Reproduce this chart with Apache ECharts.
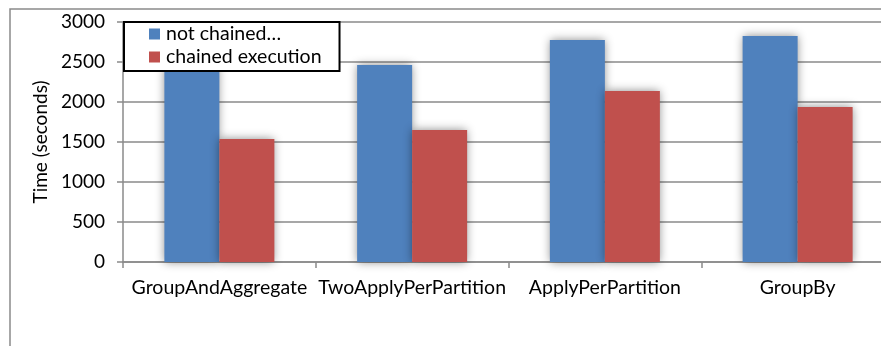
<!DOCTYPE html>
<html>
<head>
<meta charset="utf-8">
<script src="https://cdn.jsdelivr.net/npm/echarts@6/dist/echarts.min.js"></script>
<style>
  html, body { margin: 0; padding: 0; background: #fff; }
  #chart { width: 881px; height: 346px; }
</style>
</head>
<body>
<div id="chart"></div>
<script>
// Benchmark runtimes per operator, in seconds
const categories = ['GroupAndAggregate', 'TwoApplyPerPartition', 'ApplyPerPartition', 'GroupBy'];
const notChained = [2450, 2462, 2775, 2825];
const chainedExecution = [1537, 1650, 2137, 1937];
const seriesNames = ['not chained\u2026', 'chained execution'];
const yTicks = { min: 0, max: 3000, interval: 500 };

const FONT = 'Lato';
const GRAY = '#8a8a8a';

const chart = echarts.init(document.getElementById('chart'), null, { renderer: 'canvas' });

const barShadow = {
  shadowBlur: 9,
  shadowColor: 'rgba(0,0,0,0.45)',
  shadowOffsetX: 0,
  shadowOffsetY: 0
};

chart.setOption({
  animation: false,
  backgroundColor: '#fff',
  textStyle: { fontFamily: FONT, color: '#000' },
  graphic: [
    {
      type: 'polyline',
      shape: { points: [[10, 346], [10, 9], [881, 9]] },
      style: { stroke: GRAY, lineWidth: 1.5, fill: null },
      z: 0
    }
  ],
  // plot area runs past the right edge of the canvas
  grid: { left: 123, top: 22, width: 771, height: 240, containLabel: false, outerBoundsMode: 'none' },
  legend: {
    left: 124,
    top: 22,
    orient: 'vertical',
    data: seriesNames,
    icon: 'rect',
    itemWidth: 11,
    itemHeight: 11,
    itemGap: 3,
    padding: [2, 18, 4, 25],
    backgroundColor: '#fff',
    borderColor: '#000',
    borderWidth: 2,
    borderRadius: 0,
    textStyle: { fontFamily: FONT, fontSize: 19.5, color: '#000', lineHeight: 20, padding: [0, 0, 0, 1] },
    z: 10
  },
  xAxis: {
    type: 'category',
    data: categories,
    axisLine: { lineStyle: { color: GRAY, width: 1.5 } },
    axisTick: { show: true, length: 6, lineStyle: { color: GRAY, width: 1.5 } },
    axisLabel: { fontFamily: FONT, fontSize: 19.5, color: '#000', margin: 16, interval: 0 },
    splitLine: { show: false }
  },
  yAxis: {
    type: 'value',
    min: yTicks.min,
    max: yTicks.max,
    interval: yTicks.interval,
    name: 'Time (seconds)',
    nameLocation: 'middle',
    nameGap: 70,
    nameTextStyle: { fontFamily: FONT, fontSize: 19, color: '#000' },
    axisLine: { show: true, lineStyle: { color: GRAY, width: 1.5 } },
    axisTick: { show: true, length: 6, lineStyle: { color: GRAY, width: 1.5 } },
    axisLabel: { fontFamily: FONT, fontSize: 19, color: '#000', margin: 18, formatter: v => String(v) },
    splitLine: { show: true, lineStyle: { color: GRAY, width: 1.5 } }
  },
  series: [
    {
      name: seriesNames[0],
      type: 'bar',
      data: notChained,
      barWidth: 55,
      barGap: '0%',
      itemStyle: Object.assign({ color: '#4f81bd' }, barShadow)
    },
    {
      name: seriesNames[1],
      type: 'bar',
      data: chainedExecution,
      barWidth: 55,
      barGap: '0%',
      itemStyle: Object.assign({ color: '#c0504d' }, barShadow)
    }
  ]
});
</script>
</body>
</html>
